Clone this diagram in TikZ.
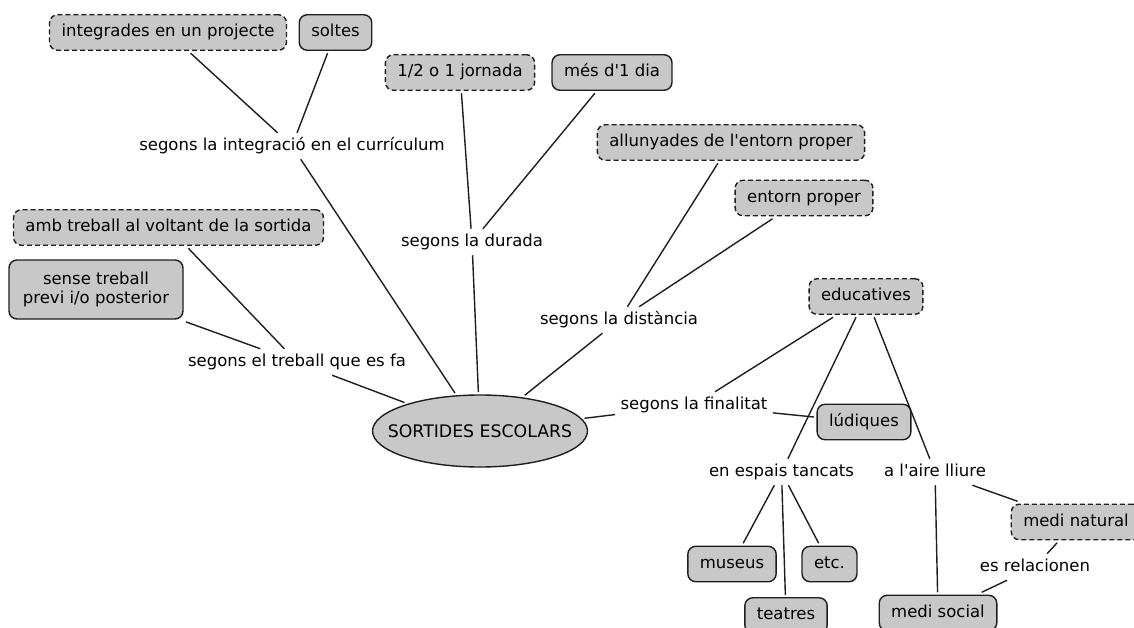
\documentclass[tikz,border=0pt]{standalone}
\usepackage{fontspec}
\setmainfont[Ligatures=TeXOff]{DejaVu Sans}
\usetikzlibrary{shapes.geometric}
\definecolor{boxgray}{RGB}{200,200,200}
\definecolor{edgeink}{RGB}{30,30,30}
\begin{document}
\begin{tikzpicture}[x=1pt,y=-1pt,
  every node/.style={font=\fontsize{16.5}{19.8}\selectfont, text height=12pt, text depth=3.5pt},
  cbox/.style={draw=edgeink, fill=boxgray, rounded corners=8pt, line width=1.4pt,
               inner xsep=12pt, inner ysep=10pt, outer sep=3pt},
  dbox/.style={cbox, dash pattern=on 5pt off 3pt},
  lbl/.style={inner sep=3pt, outer sep=2.5pt},
  root/.style={ellipse, draw=edgeink, fill=boxgray, line width=1.4pt, minimum width=215pt,
               minimum height=72pt, inner sep=0pt, outer sep=3pt, text height=0pt, text depth=0pt,
               font=\fontsize{17.3}{20}\selectfont},
  link/.style={line width=1.4pt, edgeink}]
\useasboundingbox (0,0) rectangle (1134,628);

% central concept (text kept zero-sized so the ellipse keeps its set size)
\node[root] (sortides) at (480,431) {\makebox[0pt]{\raisebox{-6pt}[0pt][0pt]{SORTIDES ESCOLARS}}};

% integration in the curriculum
\node[dbox] (integrades) at (168,32.5) {integrades en un projecte};
\node[cbox] (soltes) at (335.5,32.5) {soltes};
\node[lbl] (integ) at (292,146) {segons la integració en el currículum};

% duration
\node[dbox] (jornada) at (460,72.5) {1/2 o 1 jornada};
\node[cbox] (mesdia) at (612,72.5) {més d'1 dia};
\node[lbl] (durada) at (472,242) {segons la durada};

% distance
\node[dbox] (allunyades) at (731,142.5) {allunyades de l'entorn proper};
\node[dbox] (entorn) at (804,198) {entorn proper};
\node[lbl] (distancia) at (619,320) {segons la distància};

% work done around the outing
\node[dbox] (ambtreball) at (168.5,227.5) {amb treball al voltant de la sortida};
\node[cbox, align=center, text height=, text depth=, minimum width=174pt, minimum height=59pt,
      inner ysep=4pt] (sense) at (96,289.5) {sense treball\\previ i/o posterior};
\node[lbl] (treball) at (297,362) {segons el treball que es fa};

% purpose
\node[lbl] (finalitat) at (694,405) {segons la finalitat};
\node[dbox] (educatives) at (866,296.5) {educatives};
\node[cbox] (ludiques) at (864,422) {lúdiques};
\node[lbl] (tancats) at (781.5,472) {en espais tancats};
\node[lbl] (aire) at (935,472) {a l'aire lliure};
\node[cbox] (museus) at (732,564) {museus};
\node[cbox] (etc) at (829.5,564) {etc.};
\node[cbox] (teatres) at (786,615.5) {teatres};
\node[dbox] (natural) at (1076,522) {medi natural};
\node[lbl] (relacionen) at (1035,567) {es relacionen};
\node[cbox] (social) at (938,613) {medi social};

% connectors
\draw[link] (integrades) -- (integ);
\draw[link] (soltes) -- (integ);
\draw[link] (integ) -- (sortides);
\draw[link] (jornada) -- (durada);
\draw[link] (mesdia) -- (durada);
\draw[link] (durada) -- (sortides);
\draw[link] (allunyades) -- (distancia);
\draw[link] (entorn) -- (distancia);
\draw[link] (distancia) -- (sortides);
\draw[link] (ambtreball) -- (treball);
\draw[link] (sense) -- (treball);
\draw[link] (treball) -- (sortides);
\draw[link] (sortides) -- (finalitat);
\draw[link] (finalitat) -- (ludiques);
\draw[link] (educatives) -- (finalitat);
\draw[link] (educatives) -- (tancats);
\draw[link] (educatives) -- (aire);
\draw[link] (tancats) -- (museus);
\draw[link] (tancats) -- (teatres);
\draw[link] (tancats) -- (etc);
\draw[link] (aire) -- (social);
\draw[link] (aire) -- (natural);
\draw[link] (natural) -- (relacionen);
\draw[link] (relacionen) -- (social);
\end{tikzpicture}
\end{document}
